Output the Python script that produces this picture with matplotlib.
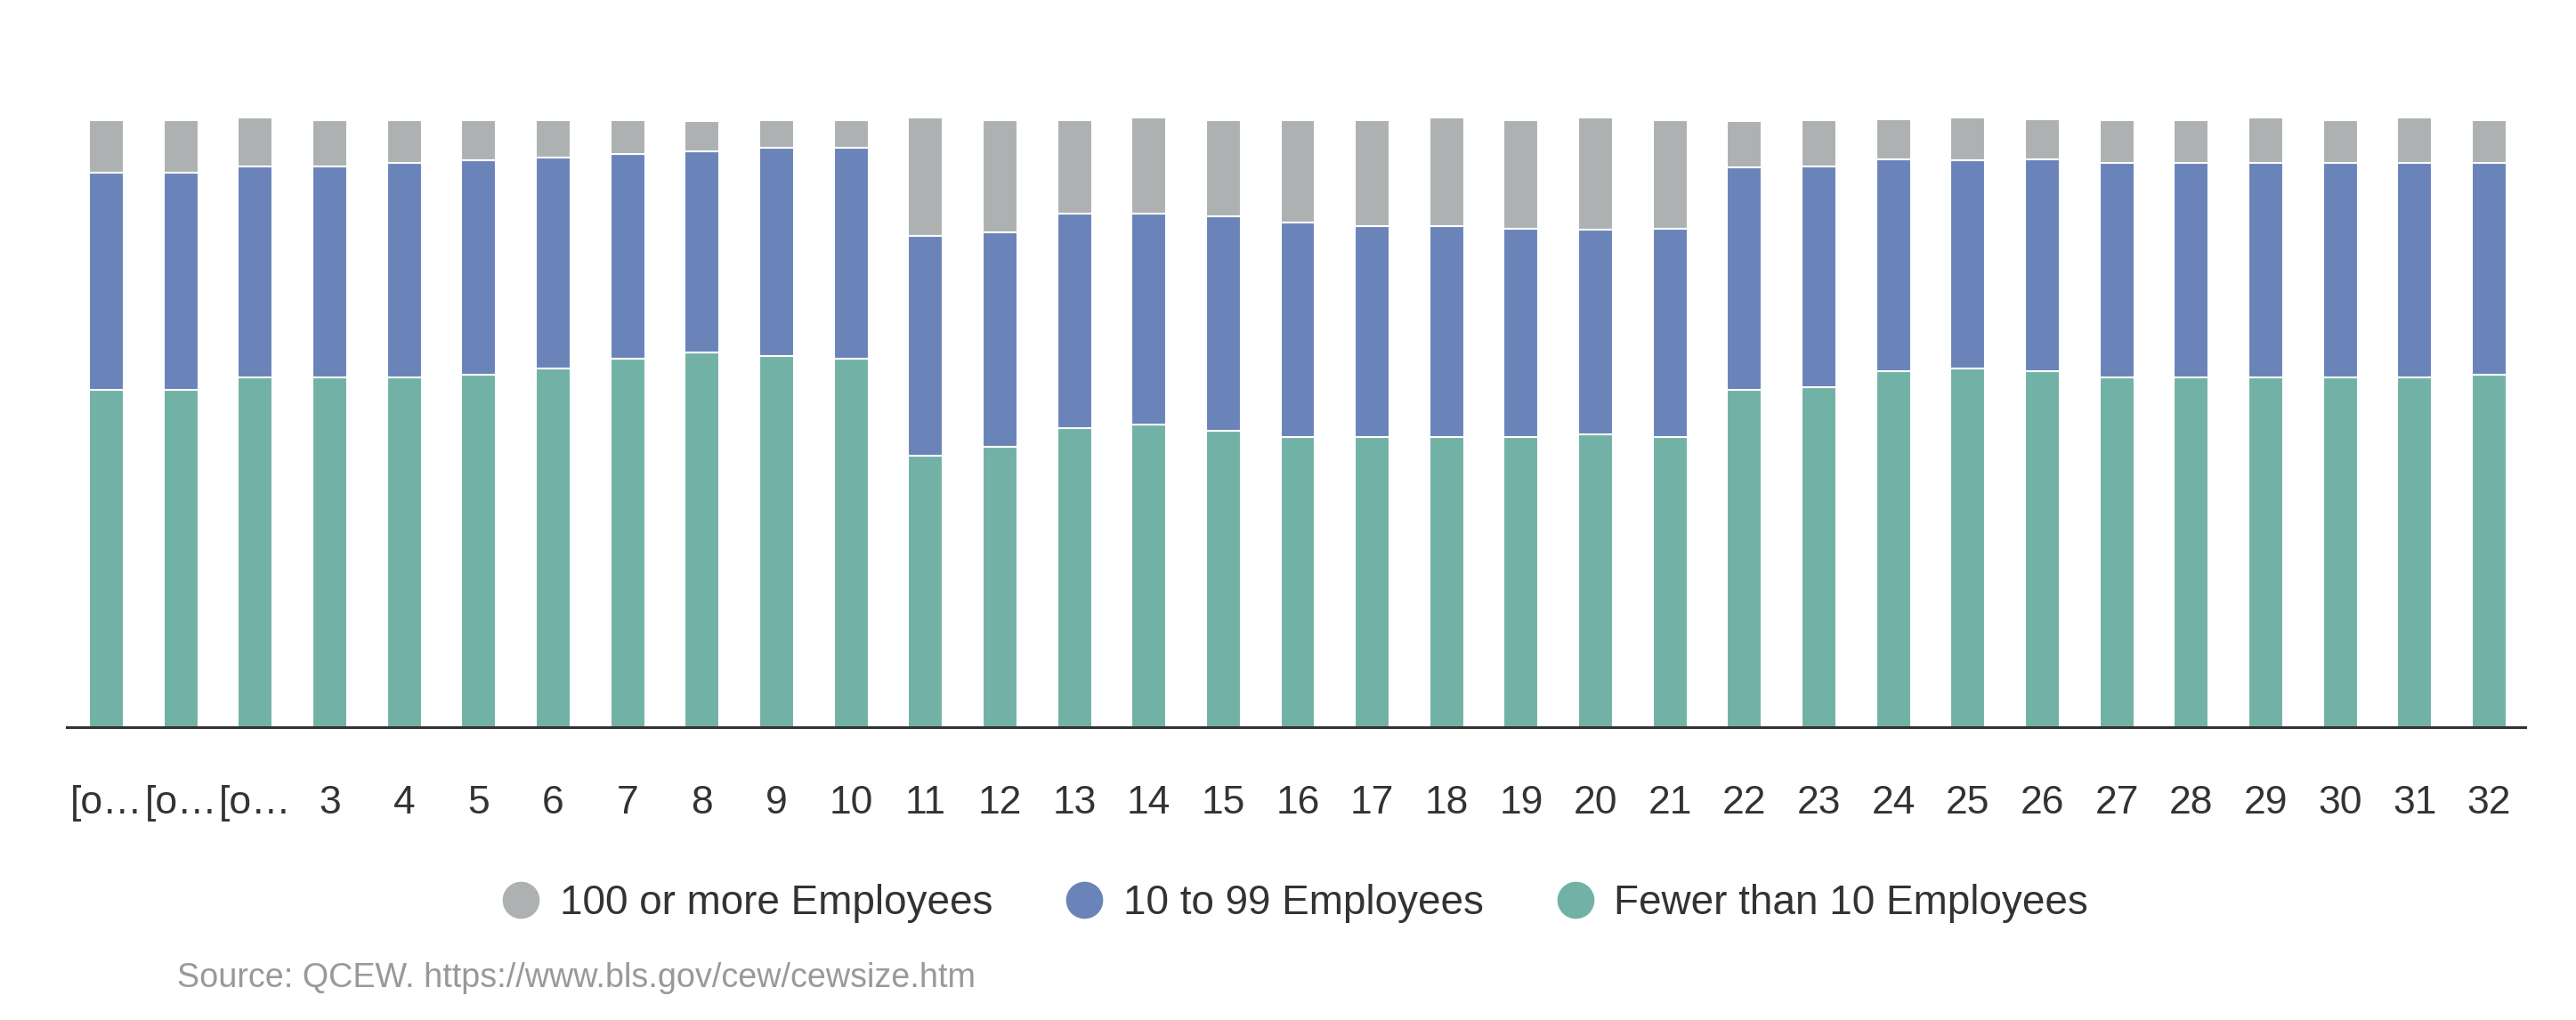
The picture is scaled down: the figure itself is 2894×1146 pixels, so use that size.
import matplotlib.pyplot as plt
from matplotlib.lines import Line2D

# Share of establishments by size class (percent)
labels = ['[o…', '[o…', '[o…', '3', '4', '5', '6', '7', '8', '9', '10',
          '11', '12', '13', '14', '15', '16', '17', '18', '19', '20', '21',
          '22', '23', '24', '25', '26', '27', '28', '29', '30', '31', '32']

fewer_than_10 = [55.5, 55.5, 57.6, 57.6, 57.6, 58.1, 59.1, 60.7, 61.7, 61.2, 60.7,
                 44.7, 46.2, 49.3, 49.8, 48.8, 47.8, 47.8, 47.8, 47.8, 48.2, 47.8,
                 55.5, 56.0, 58.7, 59.1, 58.7, 57.6, 57.6, 57.6, 57.6, 57.6, 58.1]
ten_to_99 = [35.8, 35.8, 34.8, 34.8, 35.3, 35.3, 34.8, 33.7, 33.2, 34.3, 34.8,
             36.3, 35.3, 35.3, 34.8, 35.3, 35.3, 34.8, 34.8, 34.3, 33.8, 34.3,
             36.8, 36.4, 34.8, 34.3, 34.8, 35.3, 35.3, 35.3, 35.3, 35.3, 34.8]
hundred_plus = [8.7, 8.7, 8.1, 7.6, 7.1, 6.6, 6.1, 5.6, 5.0, 4.5, 4.5,
                19.5, 18.5, 15.4, 15.8, 15.9, 16.9, 17.4, 17.9, 17.9, 18.4, 17.9,
                7.6, 7.6, 6.6, 7.0, 6.6, 7.1, 7.1, 7.5, 7.1, 7.5, 7.1]

series_names = ['100 or more Employees', '10 to 99 Employees', 'Fewer than 10 Employees']
colors = {'gray': '#aeb1b2', 'blue': '#6a83b9', 'green': '#72b1a6'}

plt.rcParams['font.family'] = ['Liberation Sans', 'DejaVu Sans']

fig = plt.figure(figsize=(28.94, 11.46), dpi=100)
W, H = 2894, 1146
# axes placed in pixel terms: x 75..2837, baseline at 817, 100% at 135
ax = fig.add_axes([75 / W, 1 - 817 / H, (2837 - 75) / W, (817 - 135) / H])

x = list(range(len(labels)))
bw = 0.466
mid = [a + b for a, b in zip(fewer_than_10, ten_to_99)]

ax.bar(x, fewer_than_10, width=bw, color=colors['green'],
       edgecolor='white', linewidth=1.5, clip_on=False)
ax.bar(x, ten_to_99, width=bw, bottom=fewer_than_10, color=colors['blue'],
       edgecolor='white', linewidth=1.5, clip_on=False)
ax.bar(x, hundred_plus, width=bw, bottom=mid, color=colors['gray'],
       edgecolor='white', linewidth=1.5, clip_on=False)

ax.set_xlim(-0.532, 32.484)
ax.set_ylim(0, 100)

for side in ['top', 'right', 'left']:
    ax.spines[side].set_visible(False)
ax.spines['bottom'].set_color('#333333')
ax.spines['bottom'].set_linewidth(2.2)
ax.spines['bottom'].set_zorder(5)

ax.set_yticks([])
ax.set_xticks(x)
ax.set_xticklabels(labels, fontsize=32, color='#333333')
ax.tick_params(axis='x', length=0, pad=47)

handles = [Line2D([], [], marker='o', linestyle='none', markersize=29,
                  markerfacecolor=c, markeredgecolor=c)
           for c in [colors['gray'], colors['blue'], colors['green']]]
fig.legend(handles, series_names, loc='center', bbox_to_anchor=(0.5025, 1 - 1015 / H),
           ncol=3, frameon=False, fontsize=33, handlelength=1.0, handletextpad=0.45,
           columnspacing=1.75, labelcolor='#333333')

fig.text(199 / W, 1 - 1099 / H, 'Source: QCEW. https://www.bls.gov/cew/cewsize.htm',
         fontsize=27.2, color='#999999', va='center', ha='left')

fig.savefig('out.png', dpi=100, facecolor='white')
